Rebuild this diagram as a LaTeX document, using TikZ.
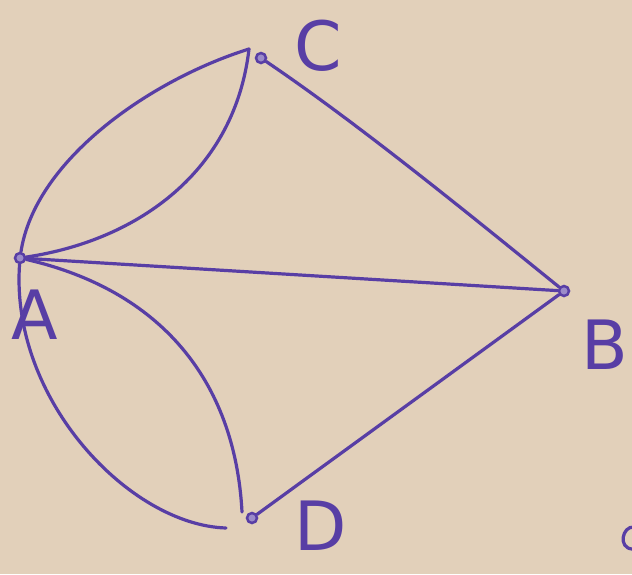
\documentclass[tikz,border=0pt]{standalone}
\usepackage{fontspec}
\setsansfont{DejaVu Sans}
\definecolor{paper}{RGB}{226,208,186}
\definecolor{ink}{RGB}{88,62,165}
\begin{document}
\begin{tikzpicture}[x=1pt,y=-1pt,
  edge/.style={draw=ink,line width=3.2pt,line cap=round},
  vtx/.style={circle,draw=ink,fill=ink!60,line width=2.5pt,inner sep=0pt,minimum size=10pt},
  lbl/.style={text=ink,font=\sffamily\fontsize{68}{68}\selectfont,inner sep=0pt}]
\fill[paper] (0,0) rectangle (632,574);
\useasboundingbox (0,0) rectangle (632,574);
\node[vtx] (A) at (20,258) {};
\node[vtx] (C) at (261,58) {};
\node[vtx] (B) at (564,291) {};
\node[vtx] (D) at (252,518) {};
\coordinate (Ctop) at (249,49);
\coordinate (Dtop) at (242,512);
\coordinate (Dleft) at (226,528);
\node[lbl] (lC) at (318,46) {C};
\node[lbl] (lA) at (35,315) {A};
\node[lbl] (lB) at (605,345) {B};
\node[lbl] (lD) at (321,526) {D};
% A - C two curves
\draw[edge] (A) .. controls (35,160) and (150,80) .. (Ctop);
\draw[edge] (A) .. controls (140,240) and (235,170) .. (Ctop);
% C - B
\draw[edge] (C) .. controls (360,125) and (470,215) .. (B);
% A - B
\draw[edge] (A) -- (B);
% B - D
\draw[edge] (B) -- (D);
% A - D two curves
\draw[edge] (A) .. controls (10,400) and (130,525) .. (Dleft);
\draw[edge] (A) .. controls (160,290) and (235,380) .. (Dtop);
% partial letter at right edge
\draw[edge] (634,527) .. controls (622,526) and (618,548) .. (632,549);
\end{tikzpicture}
\end{document}
